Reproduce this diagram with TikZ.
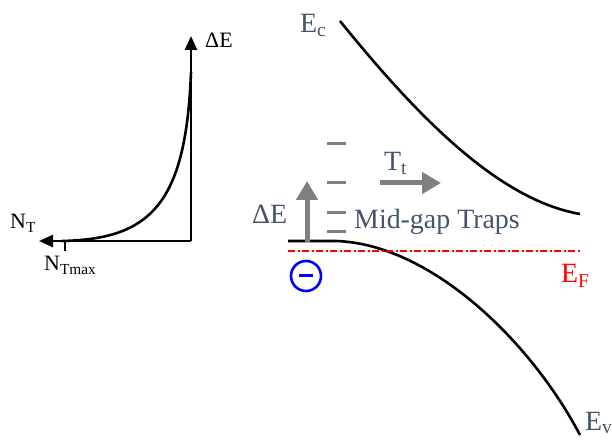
\documentclass[tikz,border=0pt]{standalone}
\usepackage{fontspec}
\setmainfont{Liberation Serif}
\usepackage{xcolor}
\usetikzlibrary{arrows.meta,positioning}
\definecolor{slate}{HTML}{44546A}
\definecolor{trapgray}{HTML}{808080}

\begin{document}
\begin{tikzpicture}[x=1bp, y=-1bp,
  biglbl/.style={text=slate, inner sep=0pt, anchor=base west, font=\fontsize{28}{32}\selectfont},
  smalllbl/.style={text=black, inner sep=0pt, anchor=base west, font=\fontsize{22}{26}\selectfont},
  axis/.style={line width=2.6bp, -{Triangle[length=14bp, width=12bp]}},
  band/.style={line width=2.6bp, black},
  trap/.style={line width=3bp, trapgray},
  grayarrow/.style={line width=5bp, trapgray, -{Triangle[length=19bp, width=21bp]}}]
\useasboundingbox (0,0) rectangle (612,440);

% density of trap states
\coordinate (o) at (191,241);
\coordinate (ytip) at (191,36);
\coordinate (xtip) at (39,241);
\coordinate (tick) at (65,241);
\draw[axis] (o) -- (ytip);
\draw[axis] (o) -- (xtip);
\draw[line width=2.6bp] (tick) -- ++(0,10);
\draw[line width=2.6bp] (191,72) .. controls (186,205) and (150,239) .. (62,241);
\node[smalllbl] (dEax) at (205,48) {ΔE};
\node[smalllbl] (nt) at (10,229) {N\textsubscript{T}};
\node[smalllbl] (ntmax) at (44,271) {N\textsubscript{Tmax}};

% band diagram
\coordinate (ec0) at (340,21);
\coordinate (ec1) at (580,214);
\coordinate (ev0) at (288,241);
\coordinate (ev1) at (336,241);
\coordinate (ev2) at (580,435);
\draw[band] (ec0) .. controls (420,120) and (500,200) .. (ec1);
\draw[band] (ev0) -- (ev1) .. controls (430,244) and (530,340) .. (ev2);
\coordinate (ef0) at (288,251);
\coordinate (ef1) at (580,251);
\draw[red, line width=2bp, dash pattern=on 7bp off 2.5bp on 2bp off 2.5bp] (ef0) -- (ef1);

\node[biglbl] (ec) at (300,33) {E\textsubscript{c}};
\node[biglbl] (ev) at (585,430) {E\textsubscript{v}};
\node[biglbl, text=red] (ef) at (561,283) {E\textsubscript{F}};

% mid-gap traps
\foreach \y [count=\i] in {144,183,213,232}
  \draw[trap] (327,\y) coordinate (t\i) -- (346,\y);
\node[biglbl] (traps) at (354,229) {Mid-gap Traps};

% emission
\coordinate (dE0) at (307,242);
\coordinate (dE1) at (307,181);
\draw[grayarrow] (dE0) -- (dE1);
\node[biglbl] (dE) at (252,224) {ΔE};
\coordinate (tt0) at (380,183);
\coordinate (tt1) at (441,183);
\draw[grayarrow] (tt0) -- (tt1);
\node[biglbl] (tt) at (384,171) {T\textsubscript{t}};

% electron
\node[draw=blue, line width=2.6bp, circle, minimum size=30bp, inner sep=0pt] (elec) at (306,276) {};
\draw[blue, line width=3bp] ([xshift=-7bp]elec.center) -- ([xshift=7bp]elec.center);
\end{tikzpicture}
\end{document}
